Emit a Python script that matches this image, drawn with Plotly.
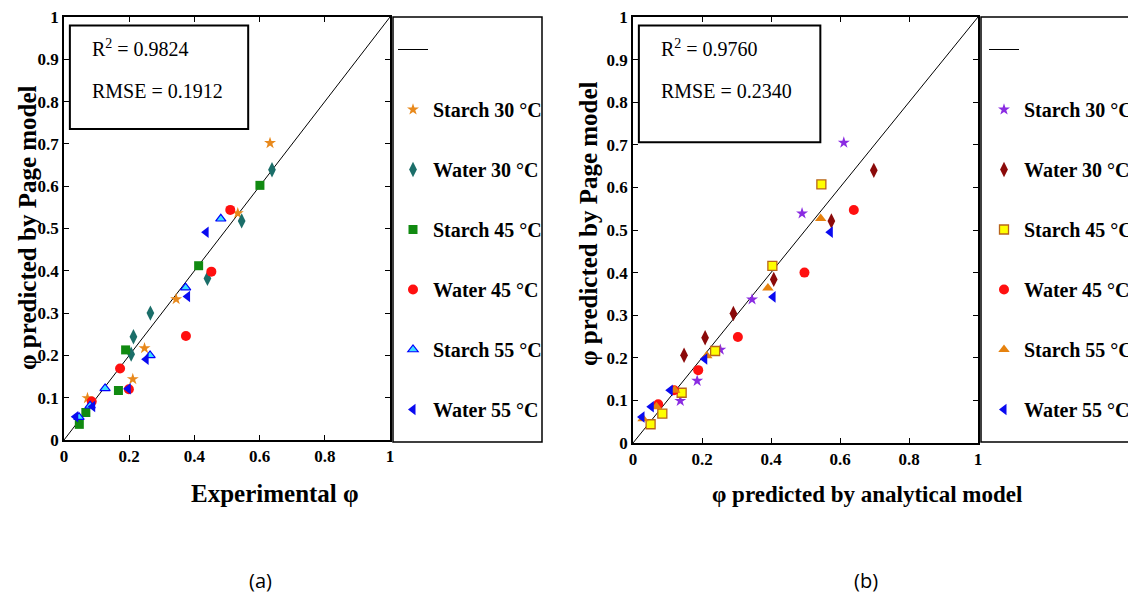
import plotly.graph_objects as go

W, H = 1128, 594

SERIES = ["Starch 30 °C", "Water 30 °C", "Starch 45 °C", "Water 45 °C", "Starch 55 °C", "Water 55 °C"]

# identity line (y = x)
LINE_X = [0, 1]
LINE_Y = [0, 1]

# Panel (a): experimental phi (x) vs phi predicted by Page model (y)
a_starch30_x = [0.632, 0.533, 0.344, 0.247, 0.211, 0.072]
a_starch30_y = [0.702, 0.536, 0.333, 0.217, 0.144, 0.099]
a_water30_x = [0.638, 0.545, 0.440, 0.265, 0.213, 0.206]
a_water30_y = [0.639, 0.518, 0.382, 0.300, 0.244, 0.203]
a_starch45_x = [0.601, 0.413, 0.189, 0.167, 0.067, 0.047]
a_starch45_y = [0.602, 0.412, 0.213, 0.117, 0.065, 0.037]
a_water45_x = [0.510, 0.452, 0.374, 0.172, 0.199, 0.085]
a_water45_y = [0.544, 0.398, 0.246, 0.169, 0.120, 0.091]
a_starch55_x = [0.481, 0.373, 0.264, 0.126, 0.080, 0.046]
a_starch55_y = [0.523, 0.360, 0.200, 0.122, 0.081, 0.054]
a_water55_x = [0.436, 0.379, 0.252, 0.197, 0.088, 0.036]
a_water55_y = [0.491, 0.339, 0.191, 0.121, 0.079, 0.055]

# Panel (b): phi predicted by analytical model (x) vs Page model (y)
b_starch30_x = [0.611, 0.490, 0.345, 0.253, 0.186, 0.137]
b_starch30_y = [0.705, 0.539, 0.337, 0.219, 0.146, 0.099]
b_water30_x = [0.698, 0.575, 0.408, 0.291, 0.209, 0.148]
b_water30_y = [0.640, 0.521, 0.384, 0.304, 0.247, 0.206]
b_starch45_x = [0.546, 0.404, 0.238, 0.141, 0.085, 0.051]
b_starch45_y = [0.607, 0.416, 0.216, 0.118, 0.069, 0.044]
b_water45_x = [0.640, 0.497, 0.304, 0.189, 0.119, 0.073]
b_water45_y = [0.547, 0.400, 0.249, 0.171, 0.124, 0.091]
b_starch55_x = [0.544, 0.391, 0.214, 0.121, 0.068, 0.029]
b_starch55_y = [0.527, 0.364, 0.205, 0.124, 0.085, 0.057]
b_water55_x = [0.572, 0.406, 0.208, 0.108, 0.053, 0.026]
b_water55_y = [0.495, 0.343, 0.197, 0.124, 0.085, 0.061]

AXIS_TICKS_X = [0, 0.2, 0.4, 0.6, 0.8, 1]
AXIS_TICKS_Y = [0, 0.1, 0.2, 0.3, 0.4, 0.5, 0.6, 0.7, 0.8, 0.9, 1]

STATS_A = ["R<sup>2</sup> = 0.9824", "RMSE = 0.1912"]
STATS_B = ["R<sup>2</sup> = 0.9760", "RMSE = 0.2340"]

SERIF = "Liberation Serif"

a_data = [(a_starch30_x, a_starch30_y), (a_water30_x, a_water30_y), (a_starch45_x, a_starch45_y),
          (a_water45_x, a_water45_y), (a_starch55_x, a_starch55_y), (a_water55_x, a_water55_y)]
b_data = [(b_starch30_x, b_starch30_y), (b_water30_x, b_water30_y), (b_starch45_x, b_starch45_y),
          (b_water45_x, b_water45_y), (b_starch55_x, b_starch55_y), (b_water55_x, b_water55_y)]

a_styles = [
    dict(symbol="star", size=9, color="#E8891C", line=dict(width=0)),
    dict(symbol="diamond-tall", size=11, color="#1B6E69", line=dict(width=0)),
    dict(symbol="square", size=9, color="#118A11", line=dict(width=0)),
    dict(symbol="circle", size=10, color="#FF1010", line=dict(width=0)),
    dict(symbol="triangle-up", size=9, color="#3CE0FF", line=dict(width=1.2, color="#0000FF")),
    dict(symbol="triangle-left", size=10, color="#0A0AF0", line=dict(width=0)),
]
b_styles = [
    dict(symbol="star", size=9, color="#8A2BE2", line=dict(width=0)),
    dict(symbol="diamond-tall", size=11, color="#8B0A0A", line=dict(width=0)),
    dict(symbol="square", size=9, color="#FFFF00", line=dict(width=1.3, color="#B8651B")),
    dict(symbol="circle", size=10, color="#FF1010", line=dict(width=0)),
    dict(symbol="triangle-up", size=10, color="#E6820E", line=dict(width=0)),
    dict(symbol="triangle-left", size=10, color="#0A0AF0", line=dict(width=0)),
]

fig = go.Figure()

for panel, (xa, ya, leg, data, styles) in enumerate([
        ("x", "y", "legend", a_data, a_styles),
        ("x2", "y2", "legend2", b_data, b_styles)]):
    fig.add_trace(go.Scatter(x=LINE_X, y=LINE_Y, mode="lines", name=" ",
                             line=dict(color="black", width=1), xaxis=xa, yaxis=ya,
                             legend=leg, legendgroup=f"p{panel}line", hoverinfo="skip"))
    for i, ((xs, ys), st) in enumerate(zip(data, styles)):
        fig.add_trace(go.Scatter(x=xs, y=ys, mode="markers", name=SERIES[i], marker=st,
                                 xaxis=xa, yaxis=ya, legend=leg, legendgroup=f"p{panel}s{i}"))

def px(v):
    return v / W

def py(v):
    return (H - v) / H

TICKFONT = dict(family=SERIF, size=17, color="black", weight="bold")

def axis(**kw):
    d = dict(range=[0, 1], showgrid=False, zeroline=False, showline=True, linecolor="black",
             linewidth=1.5, mirror="ticks", ticks="inside", ticklen=5, tickwidth=1,
             tickcolor="black", tickfont=TICKFONT)
    d.update(kw)
    return d

LEGFONT = dict(family=SERIF, size=20, color="black", weight="bold")

fig.update_layout(
    width=W, height=H,
    font=dict(family=SERIF, color="black"),
    margin=dict(l=0, r=0, t=0, b=0, autoexpand=False),
    paper_bgcolor="white", plot_bgcolor="white",
    showlegend=True,
    xaxis=axis(domain=[px(64), px(390)], tickvals=AXIS_TICKS_X, anchor="y"),
    yaxis=axis(domain=[py(440), py(17)], tickvals=AXIS_TICKS_Y, anchor="x"),
    xaxis2=axis(domain=[px(633), px(978)], tickvals=AXIS_TICKS_X, anchor="y2"),
    yaxis2=axis(domain=[py(443), py(17)], tickvals=AXIS_TICKS_Y, anchor="x2"),
    legend=dict(x=px(393), y=py(30), xanchor="left", yanchor="top", tracegroupgap=31,
                bgcolor="rgba(0,0,0,0)", borderwidth=0, itemwidth=30, font=LEGFONT),
    legend2=dict(x=px(984), y=py(30), xanchor="left", yanchor="top", tracegroupgap=31,
                 bgcolor="rgba(0,0,0,0)", borderwidth=0, itemwidth=30, font=LEGFONT),
)

# legend frames
fig.add_shape(type="rect", xref="paper", yref="paper", x0=px(393), x1=px(542), y0=py(442), y1=py(17),
              line=dict(color="black", width=1.5))
fig.add_shape(type="rect", xref="paper", yref="paper", x0=px(981), x1=px(1140), y0=py(442), y1=py(17),
              line=dict(color="black", width=1.5))

# statistics boxes
fig.add_shape(type="rect", xref="x", yref="y", x0=0.018, x1=0.565, y0=0.735, y1=0.980,
              line=dict(color="black", width=2))
fig.add_shape(type="rect", xref="x2", yref="y2", x0=0.017, x1=0.543, y0=0.706, y1=0.980,
              line=dict(color="black", width=2))

for (xr, yr, stats, x0) in [("x", "y", STATS_A, 0.08), ("x2", "y2", STATS_B, 0.075)]:
    for txt, yy in zip(stats, [0.927, 0.826]):
        fig.add_annotation(x=x0, y=yy, xref=xr, yref=yr, text=txt, showarrow=False,
                           xanchor="left", yanchor="middle",
                           font=dict(family=SERIF, size=20, color="black"))

bold = dict(family=SERIF, color="black", weight="bold")

def label(x, y, text, size, angle=0, fam=None):
    f = dict(size=size, **bold)
    if fam:
        f = dict(family=fam, size=size, color="black")
    fig.add_annotation(x=px(x), y=py(y), xref="paper", yref="paper", text=text, showarrow=False,
                       xanchor="center", yanchor="middle", textangle=angle, font=f)

# axis titles
label(275, 493, "Experimental φ", 25)
label(867, 494, "φ predicted by analytical model", 23)
label(27, 228, "φ predicted by Page model", 25, -90)
label(589, 224, "φ predicted by Page model", 25, -90)

# panel labels
label(260, 580, "(a)", 20, fam="Open Sans")
label(866, 580, "(b)", 20, fam="Open Sans")

fig.write_html("out.html", config={"displayModeBar": False},
               post_script="document.body.style.margin='0';")
